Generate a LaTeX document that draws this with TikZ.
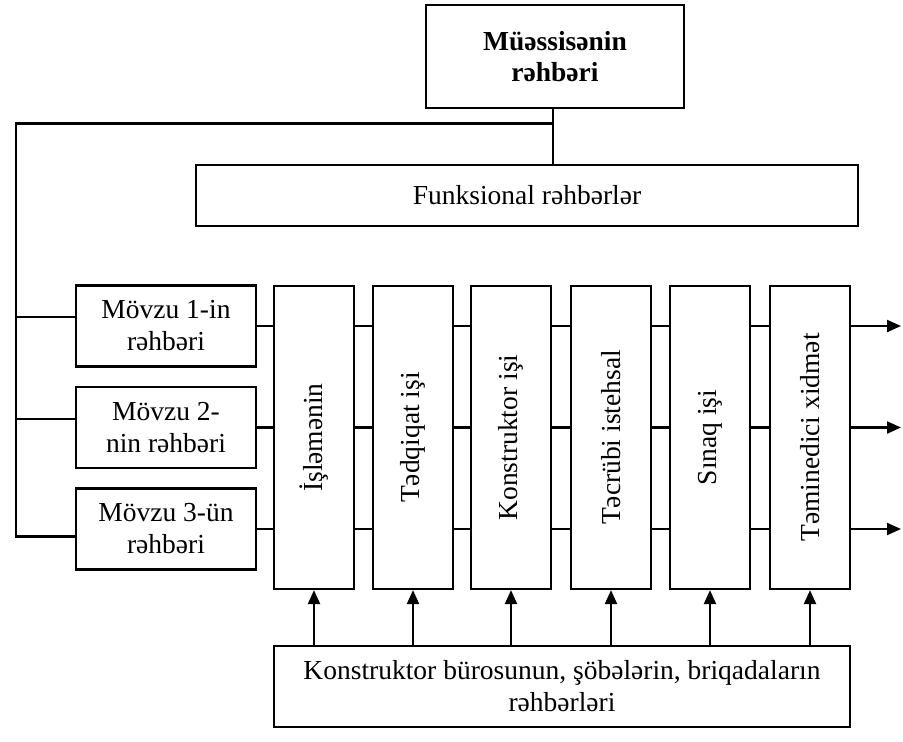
\documentclass[tikz,border=0pt]{standalone}
\usepackage{fontspec}
\setmainfont{Liberation Serif}
\usetikzlibrary{arrows.meta}
\begin{document}
\begin{tikzpicture}[x=1pt,y=-1pt,
  ln/.style={line width=2.2pt},
  arr/.style={ln,-{Triangle[length=14pt,width=12pt]}},
  box/.style={draw, line width=2.2pt, inner sep=0pt, align=center, font=\fontsize{27.5}{32}\selectfont},
  vbox/.style={box, minimum width=80pt, minimum height=303pt},
  mbox/.style={box, minimum width=180pt, minimum height=81pt}
]
\useasboundingbox (0,0) rectangle (903,742);
% top
\node[box, minimum width=258pt, minimum height=103pt, font=\fontsize{27.5}{31}\selectfont\bfseries] (top) at (555,56.5) {Müəssisənin\\rəhbəri};
\node[box, minimum width=662pt, minimum height=61pt] (fr) at (527,195.5) {Funksional rəhbərlər};
% Movzu boxes
\node[mbox] (m1) at (166,326) {Mövzu 1-in\\rəhbəri};
\node[mbox] (m2) at (166,427.5) {Mövzu 2-\\nin rəhbəri};
\node[mbox] (m3) at (166,529) {Mövzu 3-ün\\rəhbəri};
% vertical boxes
\node[vbox] (b1) at (314,437.5) {\rotatebox{90}{İşləmənin}};
\node[vbox] (b2) at (413,437.5) {\rotatebox{90}{Tədqiqat işi}};
\node[vbox] (b3) at (511,437.5) {\rotatebox{90}{Konstruktor işi}};
\node[vbox] (b4) at (611,437.5) {\rotatebox{90}{Təcrübi istehsal}};
\node[vbox] (b5) at (710,437.5) {\rotatebox{90}{Sınaq işi}};
\node[vbox] (b6) at (810,437.5) {\rotatebox{90}{Təminedici xidmət}};
% bottom box
\node[box, minimum width=576pt, minimum height=81pt] (bb) at (562,686.5) {Konstruktor bürosunun, şöbələrin, briqadaların\\rəhbərləri};
% tree on top-left
\coordinate (J) at (553,123.5);
\coordinate (L) at (16,123.5);
\coordinate (E) at (901,0);
\coordinate (m1L) at ([yshift=9pt]m1.west);
\coordinate (m2L) at ([yshift=8.5pt]m2.west);
\coordinate (m3L) at ([yshift=-7.5pt]m3.west);
\draw[ln] (top.south -| J) -- (fr.north -| J);
\draw[ln] (J) -- (L) |- (m3L);
\draw[ln] (L |- m1L) -- (m1L);
\draw[ln] (L |- m2L) -- (m2L);
% rows
\foreach \m in {m1,m2,m3}{
  \draw[ln] (\m.east) -- (\m.east -| b1.west);
  \foreach \a/\b in {b1/b2,b2/b3,b3/b4,b4/b5,b5/b6}{
    \draw[ln] (\m.east -| \a.east) -- (\m.east -| \b.west);
  }
  \draw[arr] (\m.east -| b6.east) -- (\m.east -| E);
}
% bottom arrows
\foreach \b in {b1,b2,b3,b4,b5,b6}{
  \draw[arr] (bb.north -| \b) -- (\b.south);
}
\end{tikzpicture}
\end{document}
